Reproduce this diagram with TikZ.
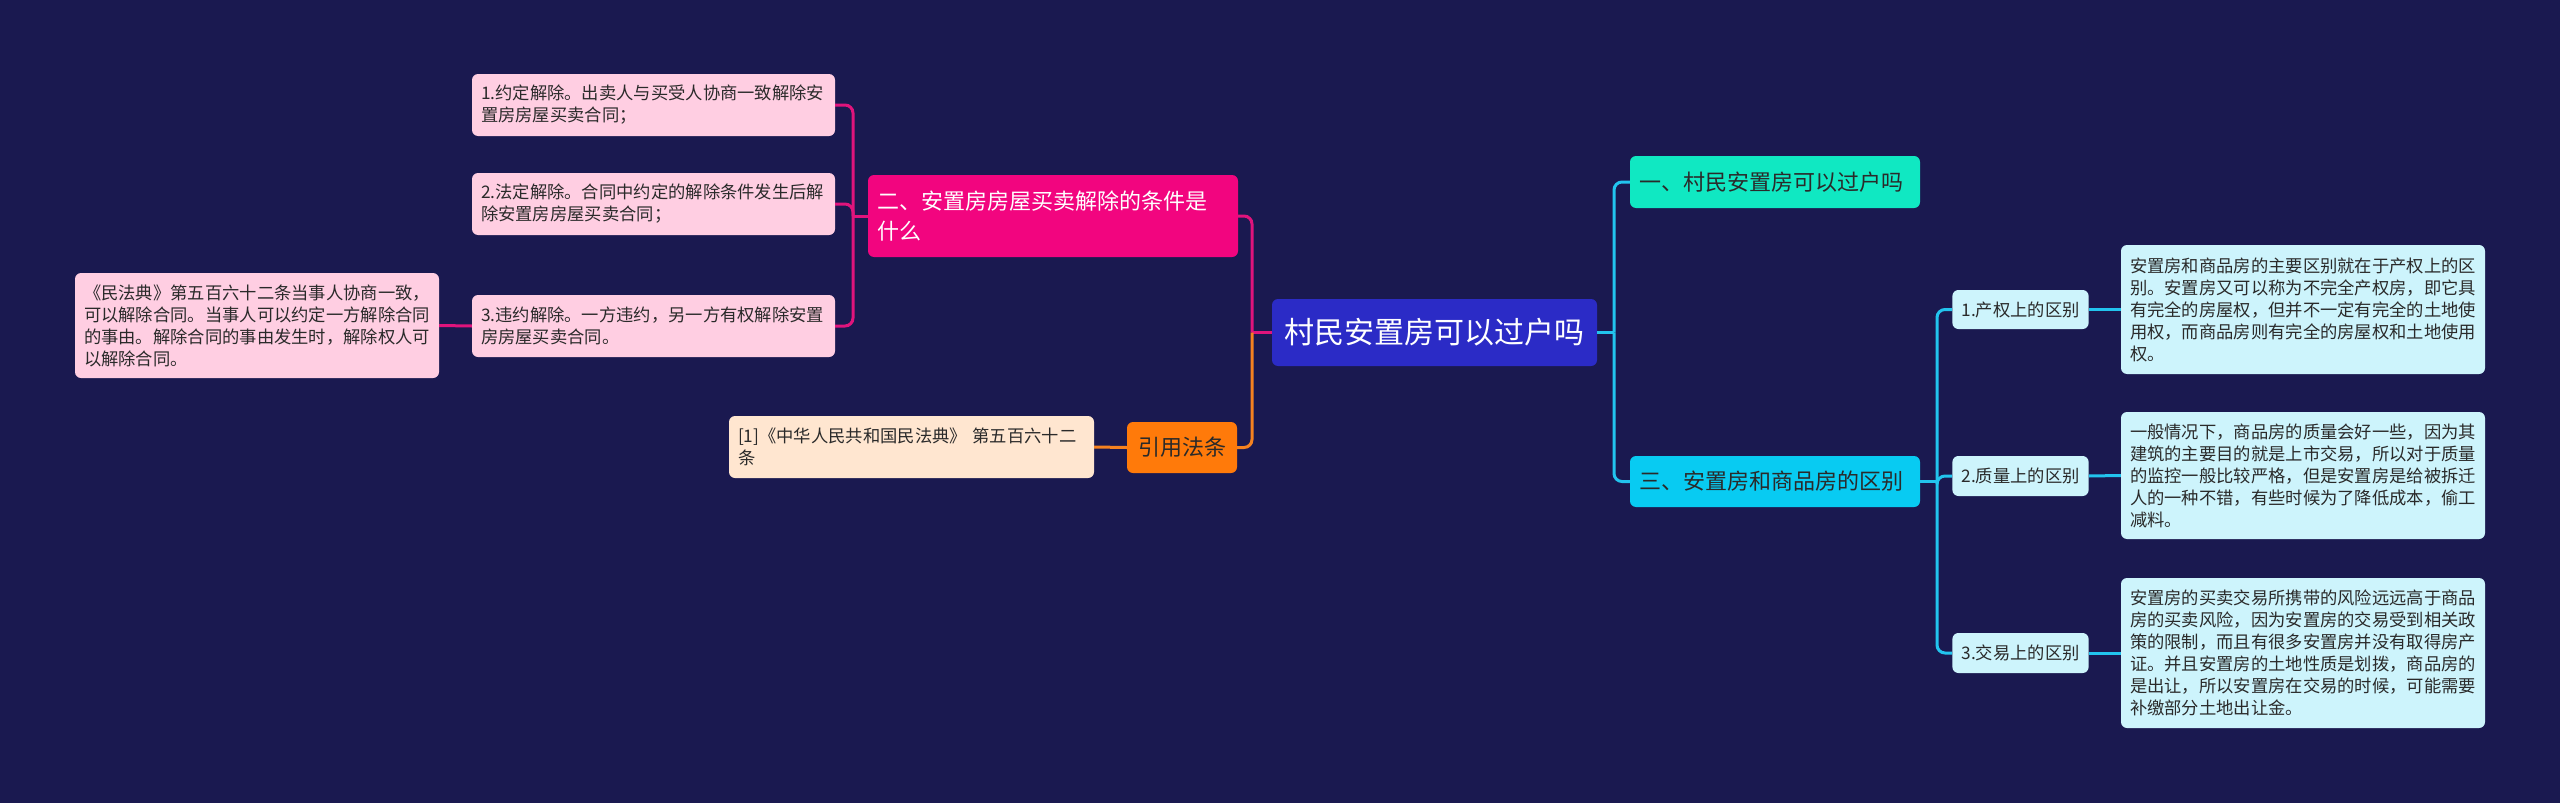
\documentclass[tikz,border=0pt]{standalone}
\usepackage{fontspec}
\newfontfamily\cjk{Noto Sans CJK SC}
\definecolor{bg}{HTML}{1A1950}
\definecolor{rootc}{HTML}{2B2BC6}
\definecolor{pinkc}{HTML}{F2057F}
\definecolor{lpink}{HTML}{FFCEE2}
\definecolor{orangec}{HTML}{FF7A0A}
\definecolor{peach}{HTML}{FFE6D0}
\definecolor{mint}{HTML}{10E8C2}
\definecolor{cyanc}{HTML}{08CBF2}
\definecolor{lcyan}{HTML}{CDF4FC}
\definecolor{cline}{HTML}{22C4EE}
\definecolor{pline}{HTML}{E0147C}
\definecolor{oline}{HTML}{F58220}
\definecolor{txt}{HTML}{2A2A2A}
\tikzset{
  base/.style={rounded corners=6pt, inner xsep=9pt, inner ysep=0pt, align=left},
  small/.style={base, text=txt, font=\cjk\fontsize{17.3}{22}\selectfont},
  big/.style={base, font=\cjk\fontsize{22}{30}\selectfont},
  conn/.style={line width=3pt, rounded corners=8pt},
}
\begin{document}
\begin{tikzpicture}[x=1pt,y=-1pt]
\fill[bg] (0,0) rectangle (2560,803);
\useasboundingbox (0,0) rectangle (2560,803);

% root
\node[base, fill=rootc, text=white, font=\cjk\fontsize{30}{36}\selectfont, minimum width=325pt, minimum height=67pt, align=center] (root) at (1434.5,332.5) {村民安置房可以过户吗};

% right side
\node[big, fill=mint, text=txt, minimum width=290pt, minimum height=52pt, text width=272pt] (one) at (1775,182) {一、村民安置房可以过户吗};
\node[big, fill=cyanc, text=txt, minimum width=290pt, minimum height=51pt, text width=272pt] (three) at (1775,481.5) {三、安置房和商品房的区别};

\node[small, fill=lcyan, minimum width=135pt, minimum height=39pt, align=center] (s1) at (2020.5,309.5) {1.产权上的区别};
\node[small, fill=lcyan, minimum width=135pt, minimum height=40pt, align=center] (s2) at (2020.5,476) {2.质量上的区别};
\node[small, fill=lcyan, minimum width=135pt, minimum height=40pt, align=center] (s3) at (2020.5,653) {3.交易上的区别};

\node[small, fill=lcyan, minimum width=364pt, minimum height=129pt, text width=346pt] (d1) at (2303,309.5) {安置房和商品房的主要区别就在于产权上的区\\别。安置房又可以称为不完全产权房，即它具\\有完全的房屋权，但并不一定有完全的土地使\\用权，而商品房则有完全的房屋权和土地使用\\权。};
\node[small, fill=lcyan, minimum width=364pt, minimum height=127pt, text width=346pt] (d2) at (2303,475.5) {一般情况下，商品房的质量会好一些，因为其\\建筑的主要目的就是上市交易，所以对于质量\\的监控一般比较严格，但是安置房是给被拆迁\\人的一种不错，有些时候为了降低成本，偷工\\减料。};
\node[small, fill=lcyan, minimum width=364pt, minimum height=150pt, text width=346pt] (d3) at (2303,653) {安置房的买卖交易所携带的风险远远高于商品\\房的买卖风险，因为安置房的交易受到相关政\\策的限制，而且有很多安置房并没有取得房产\\证。并且安置房的土地性质是划拨，商品房的\\是出让，所以安置房在交易的时候，可能需要\\补缴部分土地出让金。};

% left side
\node[big, fill=pinkc, text=white, minimum width=370pt, minimum height=82pt, text width=352pt] (two) at (1053,216) {二、安置房房屋买卖解除的条件是\\什么};
\node[big, fill=orangec, text=txt, minimum width=110pt, minimum height=51pt, align=center] (law) at (1182,447.5) {引用法条};

\node[small, fill=lpink, minimum width=363pt, minimum height=62pt, text width=345pt] (b1) at (653.5,105) {1.约定解除。出卖人与买受人协商一致解除安\\置房房屋买卖合同；};
\node[small, fill=lpink, minimum width=363pt, minimum height=62pt, text width=345pt] (b2) at (653.5,204) {2.法定解除。合同中约定的解除条件发生后解\\除安置房房屋买卖合同；};
\node[small, fill=lpink, minimum width=363pt, minimum height=62pt, text width=345pt] (b3) at (653.5,326) {3.违约解除。一方违约，另一方有权解除安置\\房房屋买卖合同。};
\node[small, fill=lpink, minimum width=364pt, minimum height=105pt, text width=346pt] (civ) at (257,325.5) {《民法典》第五百六十二条当事人协商一致，\\可以解除合同。当事人可以约定一方解除合同\\的事由。解除合同的事由发生时，解除权人可\\以解除合同。};
\node[small, fill=peach, minimum width=365pt, minimum height=62pt, text width=347pt] (ref) at (911.5,447) {[1]《中华人民共和国民法典》 第五百六十二\\条};

% connectors
\coordinate (rc) at (1614,332.5);
\draw[conn, cline] (root.east) -- (rc);
\draw[conn, cline] (rc) |- (one.west);
\draw[conn, cline] (rc) |- (three.west);
\coordinate (tc) at (1937,481.5);
\draw[conn, cline] (three.east) -- (tc);
\draw[conn, cline] (tc) |- (s1.west);
\draw[conn, cline] (tc) |- (s2.west);
\draw[conn, cline] (tc) |- (s3.west);
\draw[conn, cline] (s1.east) -- (d1.west);
\draw[conn, cline] (s2.east) -- (d2.west);
\draw[conn, cline] (s3.east) -- (d3.west);

\coordinate (lc) at (1252,332.5);
\draw[conn, pline] (root.west) -- (lc);
\draw[conn, pline] (lc) |- (two.east);
\draw[conn, oline] (lc) |- (law.east);
\coordinate (pc) at (853,216);
\draw[conn, pline] (two.west) -- (pc);
\draw[conn, pline] (pc) |- (b1.east);
\draw[conn, pline] (pc) |- (b2.east);
\draw[conn, pline] (pc) |- (b3.east);
\draw[conn, pline] (b3.west) -- (civ.east);
\draw[conn, oline] (law.west) -- (ref.east);
\end{tikzpicture}
\end{document}
